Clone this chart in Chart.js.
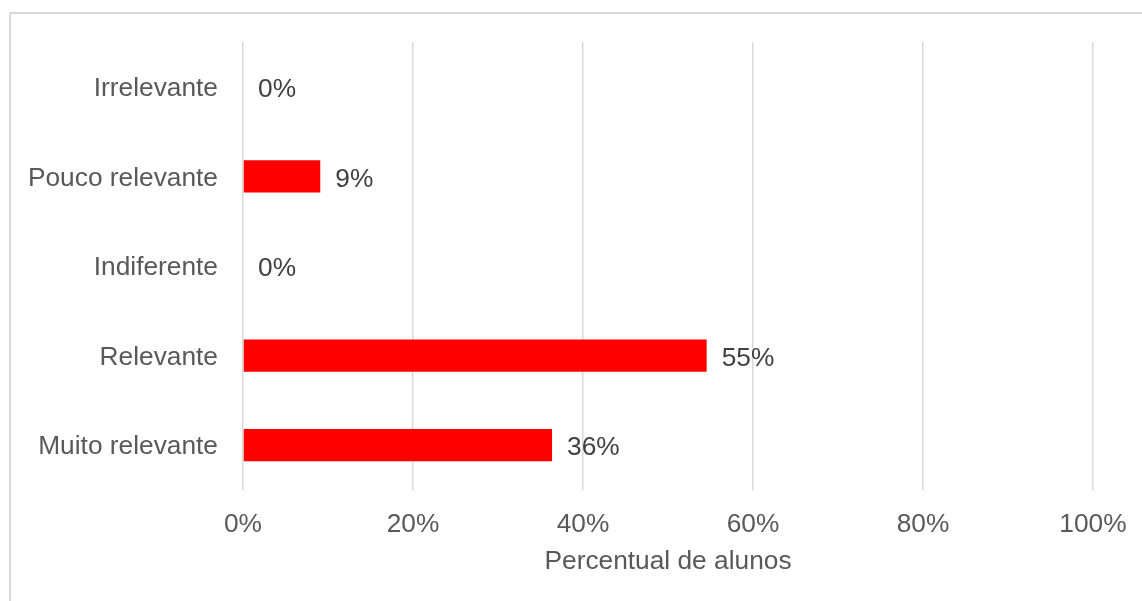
<!DOCTYPE html>
<html>
<head>
<meta charset="utf-8">
<script src="https://cdn.jsdelivr.net/npm/chart.js@4/dist/chart.umd.min.js"></script>
<style>
html,body{margin:0;padding:0;background:#fff;overflow:hidden;}
#moldura{position:absolute;left:9px;top:12px;width:2000px;height:2000px;border:2px solid #d9d9d9;}
#caixa{position:absolute;left:0;top:0;width:1142px;height:601px;}
</style>
</head>
<body>
<div id="moldura"></div>
<div id="caixa"><canvas id="grafico-relevancia" width="1142" height="601"></canvas></div>
<script>

// categorias de cima para baixo
let categorias=["Irrelevante","Pouco relevante","Indiferente","Relevante","Muito relevante"];

// percentual de alunos em cada resposta
let percentuais=[0,9.09,0,54.55,36.36];

let marcasEixo=[0,20,40,60,80,100];

let fonte="'Liberation Sans', Arial, sans-serif";


// escreve o valor ao lado de cada barra
let rotulos={

id:"rotulos",

afterDatasetsDraw(chart){

let ctx=chart.ctx;

ctx.save();

ctx.font="26.3px "+fonte;
ctx.fillStyle="#404040";
ctx.textAlign="left";
ctx.textBaseline="middle";

chart.getDatasetMeta(0).data.forEach((barra,i)=>{

ctx.fillText(Math.round(percentuais[i])+"%",barra.x+15,barra.y+3);

});

ctx.restore();

}

};


new Chart(

document
.getElementById("grafico-relevancia"),

{

type:"bar",

data:{

labels:categorias,

datasets:[{

data:percentuais,

backgroundColor:"#ff0000",

barPercentage:0.36,

categoryPercentage:1

}]

},

options:{

indexAxis:"y",

responsive:false,

animation:false,

layout:{padding:{top:42,right:49,bottom:23,left:0}},

plugins:{
legend:{display:false},
tooltip:{enabled:false}
},

scales:{

x:{

min:0,
max:100,

afterBuildTicks(scale){
scale.ticks=marcasEixo.map(v=>({value:v}));
},

afterFit(scale){
scale.height=88;
scale.paddingLeft=0;
scale.paddingRight=0;
},

grid:{color:"#d9d9d9",lineWidth:1.5,drawTicks:false},

border:{display:false},

ticks:{
padding:19,
color:"#595959",
font:{family:fonte,size:26.3},
callback:v=>v+"%"
},

title:{
display:true,
text:"Percentual de alunos",
color:"#595959",
font:{family:fonte,size:26.3},
padding:{top:0,bottom:0}
}

},

y:{

afterFit(scale){
scale.width=243;
},

grid:{display:false,drawTicks:false},

border:{display:false},

ticks:{
padding:25,
labelOffset:2,
color:"#595959",
font:{family:fonte,size:26.3}
}

}

}

},

plugins:[rotulos]

}

);

</script>
</body>
</html>
